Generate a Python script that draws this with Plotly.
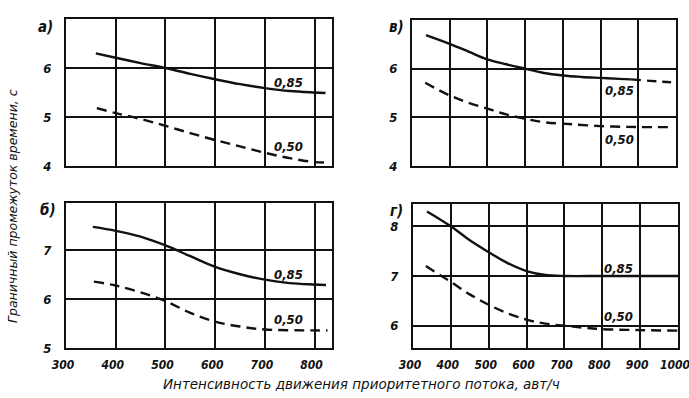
import plotly.graph_objects as go

W, H = 689, 398

# ---- data ----
# panel а (top-left)
a_x85 = [360, 400, 450, 500, 550, 600, 650, 700, 750, 800, 822]
a_y85 = [6.30, 6.21, 6.10, 6.00, 5.88, 5.77, 5.67, 5.59, 5.53, 5.50, 5.49]
a_x50 = [362, 400, 450, 500, 550, 600, 650, 700, 750, 800, 825]
a_y50 = [5.18, 5.08, 4.96, 4.82, 4.67, 4.53, 4.40, 4.27, 4.16, 4.08, 4.07]

# panel в (top-right)
v_x85 = [337, 400, 450, 500, 550, 600, 650, 700, 750, 800, 850, 880]
v_y85 = [6.69, 6.51, 6.35, 6.19, 6.09, 6.00, 5.91, 5.86, 5.83, 5.81, 5.79, 5.78]
v_x85_ext = [880, 930, 987]
v_y85_ext = [5.78, 5.75, 5.72]
v_x50 = [335, 400, 450, 500, 550, 600, 650, 700, 800, 900, 990]
v_y50 = [5.71, 5.45, 5.30, 5.18, 5.06, 4.97, 4.90, 4.87, 4.82, 4.80, 4.80]

# panel б (bottom-left)
b_x85 = [354, 400, 450, 500, 550, 600, 650, 700, 750, 800, 823]
b_y85 = [7.48, 7.40, 7.28, 7.10, 6.88, 6.66, 6.51, 6.40, 6.33, 6.30, 6.29]
b_x50 = [356, 400, 450, 500, 550, 600, 650, 700, 800, 826]
b_y50 = [6.36, 6.28, 6.14, 5.96, 5.72, 5.54, 5.44, 5.38, 5.36, 5.36]

# panel г (bottom-right)
g_x85 = [337, 400, 450, 500, 550, 600, 650, 700, 800, 900, 1000]
g_y85 = [8.30, 8.00, 7.72, 7.48, 7.26, 7.10, 7.02, 7.00, 7.00, 7.00, 7.00]
g_x50 = [334, 400, 450, 500, 550, 600, 650, 700, 750, 800, 900, 1000]
g_y50 = [7.20, 6.88, 6.63, 6.42, 6.25, 6.12, 6.04, 6.00, 5.96, 5.93, 5.91, 5.90]

left_xticks = [300, 400, 500, 600, 700, 800]
right_xticks = [300, 400, 500, 600, 700, 800, 900, 1000]
top_yticks = [4, 5, 6]
bl_yticks = [5, 6, 7]
br_yticks = [6, 7, 8]

panel_labels = ["а)", "в)", "б)", "г)"]
curve_labels = ["0,85", "0,50"]
x_title = "Интенсивность движения приоритетного потока, авт/ч"
y_title = "Граничный промежуток времени, с"

FONT = "DejaVu Sans Condensed"
TFONT = "DejaVu Sans"
ink = "#111111"

def px_x(p):
    return p / W

def px_y(p):
    return 1 - p / H

fig = go.Figure()

panels = [
    ("x", "y", (66, 332), (19, 166), [300, 835], [4, 7], left_xticks, top_yticks, False),
    ("x2", "y2", (412, 676), (20, 166), [300, 1000], [4, 7], right_xticks, top_yticks, False),
    ("x3", "y3", (66, 332), (203, 348), [300, 835], [5.0, 7.97], left_xticks, bl_yticks, True),
    ("x4", "y4", (413, 678), (204, 348), [300, 1000], [5.55, 8.45], right_xticks, br_yticks, True),
]

series = [
    [(a_x85, a_y85, "solid"), (a_x50, a_y50, "dash")],
    [(v_x85, v_y85, "solid"), (v_x85_ext, v_y85_ext, "dash"), (v_x50, v_y50, "dash")],
    [(b_x85, b_y85, "solid"), (b_x50, b_y50, "dash")],
    [(g_x85, g_y85, "solid"), (g_x50, g_y50, "dash")],
]

label_pos = [
    [(748, 5.71), (748, 4.40)],
    [(850, 5.55), (850, 4.55)],
    [(748, 6.50), (748, 5.58)],
    [(843, 7.15), (843, 6.18)],
]

panel_label_px = [(45, 27), (396, 27), (48, 210), (396, 211)]

tickfont = dict(family=FONT, size=12, color=ink, style="italic", weight="bold")

layout = {}
annotations = []
for i, (xa, ya, xd, yd, xr, yr, xt, yt, showx) in enumerate(panels):
    xkey = "xaxis" if xa == "x" else "xaxis" + xa[1:]
    ykey = "yaxis" if ya == "y" else "yaxis" + ya[1:]
    layout[xkey] = dict(
        domain=[px_x(xd[0]), px_x(xd[1])], range=xr, anchor=ya,
        tickmode="array", tickvals=xt, ticktext=[str(v) for v in xt],
        showticklabels=showx, ticks="", automargin=False,
        showgrid=True, gridcolor=ink, gridwidth=1.6,
        showline=True, linecolor=ink, linewidth=2, mirror=True,
        zeroline=False, fixedrange=True,
        tickfont=tickfont, ticklabelstandoff=5, ticklabelshift=-3,
        ticklabeloverflow="allow",
    )
    layout[ykey] = dict(
        domain=[px_y(yd[1]), px_y(yd[0])], range=yr, anchor=xa,
        tickmode="array", tickvals=yt, ticktext=[str(v) for v in yt],
        ticks="", showgrid=True, gridcolor=ink, gridwidth=1.6, automargin=False,
        showline=True, linecolor=ink, linewidth=2, mirror=True,
        zeroline=False, fixedrange=True,
        tickfont=dict(family=FONT, size=13, color=ink, style="italic", weight="bold"),
        ticklabelstandoff=10, ticklabeloverflow="allow",
    )
    for (sx, sy, dash) in series[i]:
        fig.add_trace(go.Scatter(
            x=sx, y=sy, xaxis=xa, yaxis=ya, mode="lines",
            line=dict(color=ink, width=2.4, shape="spline",
                      dash="solid" if dash == "solid" else "10px,6px"),
            showlegend=False, hoverinfo="skip",
        ))
    for lbl, (lx, ly) in zip(curve_labels, label_pos[i]):
        annotations.append(dict(
            x=lx, y=ly, xref=xa, yref=ya, text=lbl, showarrow=False,
            xanchor="center", yanchor="middle",
            font=dict(family=FONT, size=13, color=ink, style="italic", weight="bold"),
        ))
    plx, ply = panel_label_px[i]
    annotations.append(dict(
        x=px_x(plx), y=px_y(ply), xref="paper", yref="paper",
        xanchor="center", yanchor="middle",
        text=panel_labels[i], showarrow=False,
        font=dict(family=FONT, size=15, color=ink, style="italic", weight="bold"),
    ))

annotations.append(dict(
    x=px_x(362), y=px_y(384), xref="paper", yref="paper", text=x_title,
    xanchor="center", yanchor="middle", showarrow=False,
    font=dict(family=TFONT, size=13.5, color=ink, style="italic"),
))
annotations.append(dict(
    x=px_x(12), y=px_y(206), xref="paper", yref="paper", text=y_title,
    xanchor="center", yanchor="middle", showarrow=False, textangle=-90,
    font=dict(family=TFONT, size=12.5, color=ink, style="italic"),
))

fig.update_layout(
    width=W, height=H,
    margin=dict(l=0, r=0, t=0, b=0, autoexpand=False),
    paper_bgcolor="white", plot_bgcolor="white",
    annotations=annotations,
    **layout,
)

fig.write_html(
    "out.html",
    config={"displayModeBar": False},
    post_script="document.body.style.margin='0';document.body.style.overflow='hidden';",
)
